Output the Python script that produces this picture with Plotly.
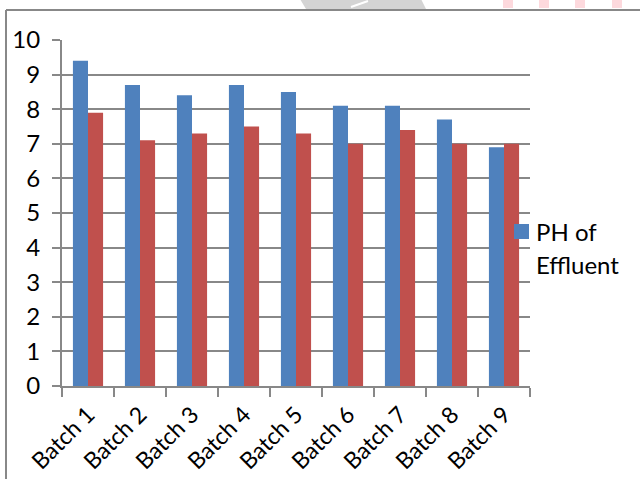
import plotly.graph_objects as go

# Batch pH readings
batches = ["Batch 1", "Batch 2", "Batch 3", "Batch 4", "Batch 5",
           "Batch 6", "Batch 7", "Batch 8", "Batch 9"]
ph_effluent = [9.4, 8.7, 8.4, 8.7, 8.5, 8.1, 8.1, 7.7, 6.9]
ph_treated = [7.9, 7.1, 7.3, 7.5, 7.3, 7.0, 7.4, 7.0, 7.0]
y_ticks = list(range(0, 11))

BLUE = "#4F81BD"
RED = "#C0504D"
GRID = "#888888"
FONT = "Lato"

W, H = 640, 479
L, R, T, B = 62, 110, 40, 93
PW, PH = W - L - R, H - T - B


def px(x):
    return (x - L) / PW


def py(y):
    return (H - B - y) / PH


fig = go.Figure()
fig.add_trace(go.Bar(x=batches, y=ph_effluent, name="PH of Effluent",
                     marker=dict(color=BLUE, line=dict(width=0)),
                     showlegend=False))
fig.add_trace(go.Bar(x=batches, y=ph_treated, name="",
                     marker=dict(color=RED, line=dict(width=0)),
                     showlegend=False))

shapes = []
# outer chart frame (top and left edges)
shapes.append(dict(type="line", xref="paper", yref="paper",
                   x0=px(6), x1=px(W + 5), y0=py(10), y1=py(10),
                   line=dict(color=GRID, width=2)))
shapes.append(dict(type="line", xref="paper", yref="paper",
                   x0=px(6), x1=px(6), y0=py(10), y1=py(H + 5),
                   line=dict(color=GRID, width=2)))
# faint page decorations along the top edge
shapes.append(dict(type="path", xref="paper", yref="paper",
                   path=f"M{px(300)},{py(-1)} L{px(421)},{py(-1)} L{px(426)},{py(9)} L{px(306)},{py(9)} Z",
                   fillcolor="#d4d4d4", line=dict(width=0), layer="below"))
shapes.append(dict(type="line", xref="paper", yref="paper",
                   x0=px(351), x1=px(368), y0=py(7), y1=py(1),
                   line=dict(color="white", width=2)))
for x0 in (503, 539, 575, 612):
    shapes.append(dict(type="rect", xref="paper", yref="paper",
                       x0=px(x0), x1=px(x0 + 10), y0=py(-1), y1=py(8),
                       fillcolor="#fdd9dd", line=dict(width=0), layer="below"))
# legend swatch
shapes.append(dict(type="rect", xref="paper", yref="paper",
                   x0=px(514), x1=px(529), y0=py(239), y1=py(224),
                   fillcolor=BLUE, line=dict(width=0)))

annotations = [
    dict(text="PH of", xref="paper", yref="paper", x=px(534), y=py(231),
         xanchor="left", yanchor="middle", showarrow=False,
         font=dict(family=FONT, size=24, color="black")),
    dict(text="Effluent", xref="paper", yref="paper", x=px(534), y=py(264),
         xanchor="left", yanchor="middle", showarrow=False,
         font=dict(family=FONT, size=24, color="black")),
]

fig.update_layout(
    width=W, height=H,
    margin=dict(l=L, r=R, t=T, b=B, pad=0, autoexpand=False),
    paper_bgcolor="white", plot_bgcolor="white",
    barmode="group", bargap=0.42, bargroupgap=0,
    font=dict(family=FONT, size=24, color="black"),
    shapes=shapes, annotations=annotations,
    xaxis=dict(
        tickangle=-45, showline=True, linecolor=GRID, linewidth=2,
        ticks="outside", tickson="boundaries", ticklen=9,
        tickcolor=GRID, tickwidth=2, showgrid=False, automargin=False,
        ticklabelstandoff=4,
        tickfont=dict(family=FONT, size=23, color="black"),
    ),
    yaxis=dict(
        range=[0, 10], tickvals=y_ticks, showline=True, linecolor=GRID,
        linewidth=2, ticks="outside", ticklen=8, tickcolor=GRID, tickwidth=2,
        showgrid=True, gridcolor=GRID, gridwidth=2, zeroline=False,
        ticklabelstandoff=7, automargin=False,
        tickfont=dict(family=FONT, size=24, color="black"),
    ),
)

fig.write_html("out.html")
